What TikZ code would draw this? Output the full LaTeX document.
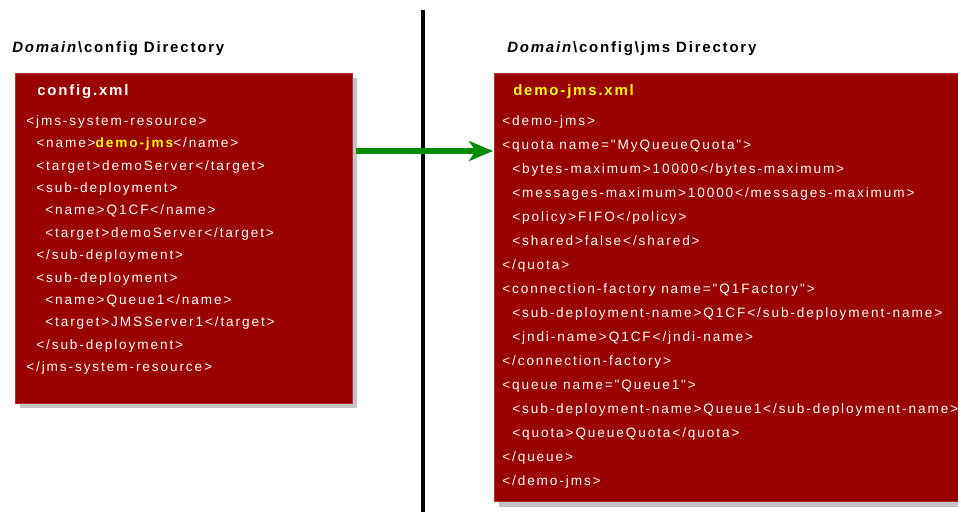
\documentclass[tikz,border=0pt]{standalone}
\usepackage{fontspec}
\setmainfont{Liberation Sans}
\newfontfamily\codefont[LetterSpace=14]{Liberation Sans}
\newfontfamily\headfont[LetterSpace=12]{Liberation Sans}
\usetikzlibrary{arrows.meta}
\definecolor{boxred}{RGB}{155,0,0}
\definecolor{boxedge}{RGB}{175,50,50}
\definecolor{shadowgray}{RGB}{196,196,196}
\definecolor{hiyellow}{RGB}{255,255,0}
\definecolor{arrowgreen}{RGB}{0,140,0}
\tikzset{
  redbox/.style={fill=boxred, draw=boxedge, line width=0.75pt, anchor=north west, inner sep=0pt},
  shadowbox/.style={fill=shadowgray, draw=none, anchor=north west, inner sep=0pt},
  codetext/.style={anchor=base west, inner sep=0pt, text=white, font=\codefont\fontsize{10.2pt}{12pt}\selectfont},
  filetitle/.style={anchor=base west, inner sep=0pt, font=\headfont\bfseries\fontsize{11.25pt}{13pt}\selectfont},
  dirtitle/.style={anchor=base west, inner sep=0pt, text=black, font=\headfont\bfseries\fontsize{11.25pt}{13pt}\selectfont},
  flow/.style={draw=arrowgreen, line width=3.9pt, -{Stealth[length=18pt,width=15pt,inset=5pt]}},
  divider/.style={draw=black, line width=2.4pt}
}
\begin{document}
\begin{tikzpicture}[x=0.75pt,y=-0.75pt]
\useasboundingbox (0,0) rectangle (958,512);
\fill[white] (0,0) rectangle (958,512);
% divider
\coordinate (d0) at (423,10);
\coordinate (d1) at (423,512);
\draw[divider] (d0) -- (d1);
% titles
\node[dirtitle] (ltitle) at (12,52.5) {\textit{Domain}\textbackslash config Directory};
\node[dirtitle] (rtitle) at (507,52.5) {\textit{Domain}\textbackslash config\textbackslash jms Directory};
% left box
\node[shadowbox, minimum width=252.75pt, minimum height=247.5pt] (lshadow) at (20,78) {};
\node[redbox, minimum width=252.75pt, minimum height=247.5pt] (lbox) at (15,73) {};
% right box
\node[shadowbox, minimum width=348pt, minimum height=321pt] (rshadow) at (499,79) {};
\node[redbox, minimum width=350pt, minimum height=321pt] (rbox) at (494,73) {};
% arrow
\coordinate (a0) at (356,151);
\coordinate (a1) at (493,151);
\draw[flow] (a0) -- (a1);
% left content
\node[filetitle, text=white] (lfile) at (37,95.5) {config.xml};
\node[codetext] (l1) at (26,125.5) {<jms-system-resource>};
\node[codetext] (l2) at (36,147.9) {<name>\textcolor{hiyellow}{\bfseries demo-jms}</name>};
\node[codetext] (l3) at (36,170.2) {<target>demoServer</target>};
\node[codetext] (l4) at (36,192.6) {<sub-deployment>};
\node[codetext] (l5) at (45,214.9) {<name>Q1CF</name>};
\node[codetext] (l6) at (45,237.3) {<target>demoServer</target>};
\node[codetext] (l7) at (36,259.6) {</sub-deployment>};
\node[codetext] (l8) at (36,282.0) {<sub-deployment>};
\node[codetext] (l9) at (45,304.4) {<name>Queue1</name>};
\node[codetext] (l10) at (45,326.7) {<target>JMSServer1</target>};
\node[codetext] (l11) at (36,349.1) {</sub-deployment>};
\node[codetext] (l12) at (26,371.5) {</jms-system-resource>};
% right content
\node[filetitle, text=hiyellow] (rfile) at (513,95.5) {demo-jms.xml};
\node[codetext] (r1) at (502,125.5) {<demo-jms>};
\node[codetext] (r2) at (502,149.5) {<quota name="MyQueueQuota">};
\node[codetext] (r3) at (512,173.5) {<bytes-maximum>10000</bytes-maximum>};
\node[codetext] (r4) at (512,197.5) {<messages-maximum>10000</messages-maximum>};
\node[codetext] (r5) at (512,221.5) {<policy>FIFO</policy>};
\node[codetext] (r6) at (512,245.5) {<shared>false</shared>};
\node[codetext] (r7) at (502,269.5) {</quota>};
\node[codetext] (r8) at (502,293.5) {<connection-factory name="Q1Factory">};
\node[codetext] (r9) at (512,317.5) {<sub-deployment-name>Q1CF</sub-deployment-name>};
\node[codetext] (r10) at (512,341.5) {<jndi-name>Q1CF</jndi-name>};
\node[codetext] (r11) at (502,365.5) {</connection-factory>};
\node[codetext] (r12) at (502,389.5) {<queue name="Queue1">};
\node[codetext] (r13) at (512,413.5) {<sub-deployment-name>Queue1</sub-deployment-name>};
\node[codetext] (r14) at (512,437.5) {<quota>QueueQuota</quota>};
\node[codetext] (r15) at (502,461.5) {</queue>};
\node[codetext] (r16) at (502,485.5) {</demo-jms>};
\end{tikzpicture}
\end{document}
